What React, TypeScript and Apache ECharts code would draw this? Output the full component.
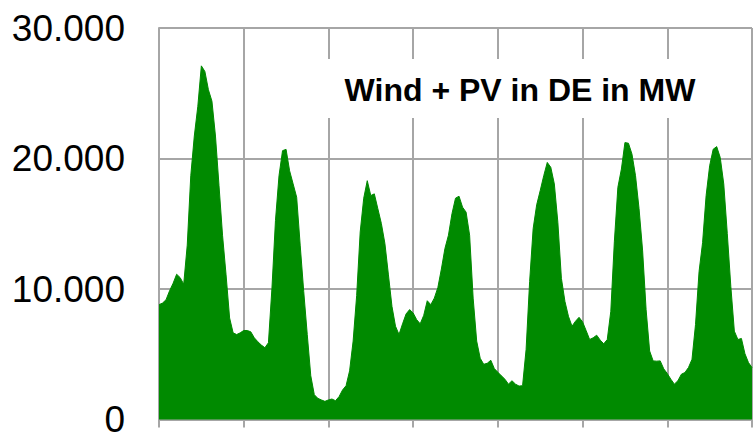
import React, { useEffect, useRef } from "react";
import * as echarts from "echarts";

// Hourly values (MW), 7 days
const day1 = [8800, 8920, 9180, 9860, 10440, 11130, 10870, 10370, 13360, 18680, 21720, 24000, 27100, 26670, 25270, 24390, 21720, 17920, 14120, 11080, 7780, 6640, 6510, 6640];
const day2 = [6820, 6820, 6720, 6260, 5960, 5700, 5500, 5880, 10060, 15260, 18680, 20600, 20700, 19060, 18050, 17030, 13360, 9810, 6510, 3350, 1900, 1620, 1500, 1390];
const day3 = [1500, 1570, 1440, 1750, 2260, 2590, 3730, 6010, 9500, 14370, 16960, 18300, 17160, 17290, 16150, 15010, 13490, 11080, 8670, 7150, 6510, 7330, 8090, 8420];
const day4 = [8160, 7650, 7330, 7980, 9100, 8800, 9300, 10110, 11530, 13100, 14120, 15770, 16960, 17110, 16270, 15890, 14120, 9300, 6010, 4690, 4230, 4310, 4540, 3900];
const day5 = [3620, 3350, 3090, 2710, 2970, 2710, 2560, 2590, 5370, 10570, 14630, 16450, 17540, 18680, 19700, 19320, 18050, 15100, 10820, 9050, 7910, 7150, 7530, 7830];
const day6 = [7480, 6820, 6130, 6260, 6460, 6080, 5800, 6130, 8290, 13610, 17790, 19190, 21220, 21170, 20330, 18680, 16150, 12980, 8420, 5250, 4490, 4470, 4490, 3880];
const day7 = [3520, 3090, 2710, 2970, 3470, 3600, 3980, 4610, 7280, 11330, 13560, 17160, 19440, 20710, 20910, 20080, 18050, 14250, 10200, 6770, 6130, 6210, 5040, 4360, 3980];

const yTicks = [0, 10000, 20000, 30000];
const titleText = "Wind + PV in DE in MW";

const allValues = [...day1, ...day2, ...day3, ...day4, ...day5, ...day6, ...day7];
const seriesData = allValues.map((v, i) => [i, v]);

const GRID = "#a6a6a6";
const FONT = '"Liberation Sans", Arial, sans-serif';

function fmt(v: number) {
  if (v === 0) return "0";
  const s = String(Math.round(v));
  return s.replace(/\B(?=(\d{3})+(?!\d))/g, ".");
}

export default function App() {
  const ref = useRef<HTMLDivElement>(null);
  useEffect(() => {
    if (!ref.current) return;
    const chart = echarts.init(ref.current, undefined, { renderer: "svg" });
    chart.setOption({
      animation: false,
      backgroundColor: "#ffffff",
      grid: { left: 159, top: 28, width: 593, height: 395, containLabel: false },
      xAxis: {
        type: "value",
        min: 0,
        max: 168,
        interval: 24,
        axisLabel: { show: false },
        axisLine: { show: true, lineStyle: { color: GRID, width: 2 } },
        axisTick: { show: true, length: 8, inside: false, lineStyle: { color: GRID, width: 2 } },
        splitLine: { show: true, lineStyle: { color: GRID, width: 2 } },
      },
      yAxis: {
        type: "value",
        min: yTicks[0],
        max: yTicks[yTicks.length - 1],
        interval: 10000,
        axisLine: { show: true, lineStyle: { color: GRID, width: 2 } },
        axisTick: { show: false },
        splitLine: { show: true, lineStyle: { color: GRID, width: 2 } },
        axisLabel: {
          margin: 34,
          fontSize: 37,
          lineHeight: 28,
          color: "#000",
          fontFamily: FONT,
          formatter: (v: number) => fmt(v),
        },
      },
      series: [
        {
          type: "line",
          data: seriesData,
          showSymbol: false,
          smooth: false,
          lineStyle: { color: "#008a00", width: 1 },
          areaStyle: { color: "#008a00", opacity: 1 },
          itemStyle: { color: "#008a00" },
          z: 3,
        },
      ],
      graphic: [
        {
          type: "rect",
          z: 100,
          shape: { x: 318, y: 59, width: 404, height: 59 },
          style: { fill: "#ffffff" },
        },
        {
          type: "text",
          z: 101,
          x: 520,
          y: 89.5,
          style: {
            text: titleText,
            fill: "#000",
            fontSize: 32,
            fontWeight: "bold",
            fontFamily: FONT,
            align: "center",
            verticalAlign: "middle",
            textAlign: "center",
            textVerticalAlign: "middle",
          },
        },
      ],
    });
    return () => chart.dispose();
  }, []);
  return (
    <div
      ref={ref}
      style={{ position: "fixed", left: 0, top: 0, width: 753, height: 438, background: "#fff" }}
    />
  );
}
